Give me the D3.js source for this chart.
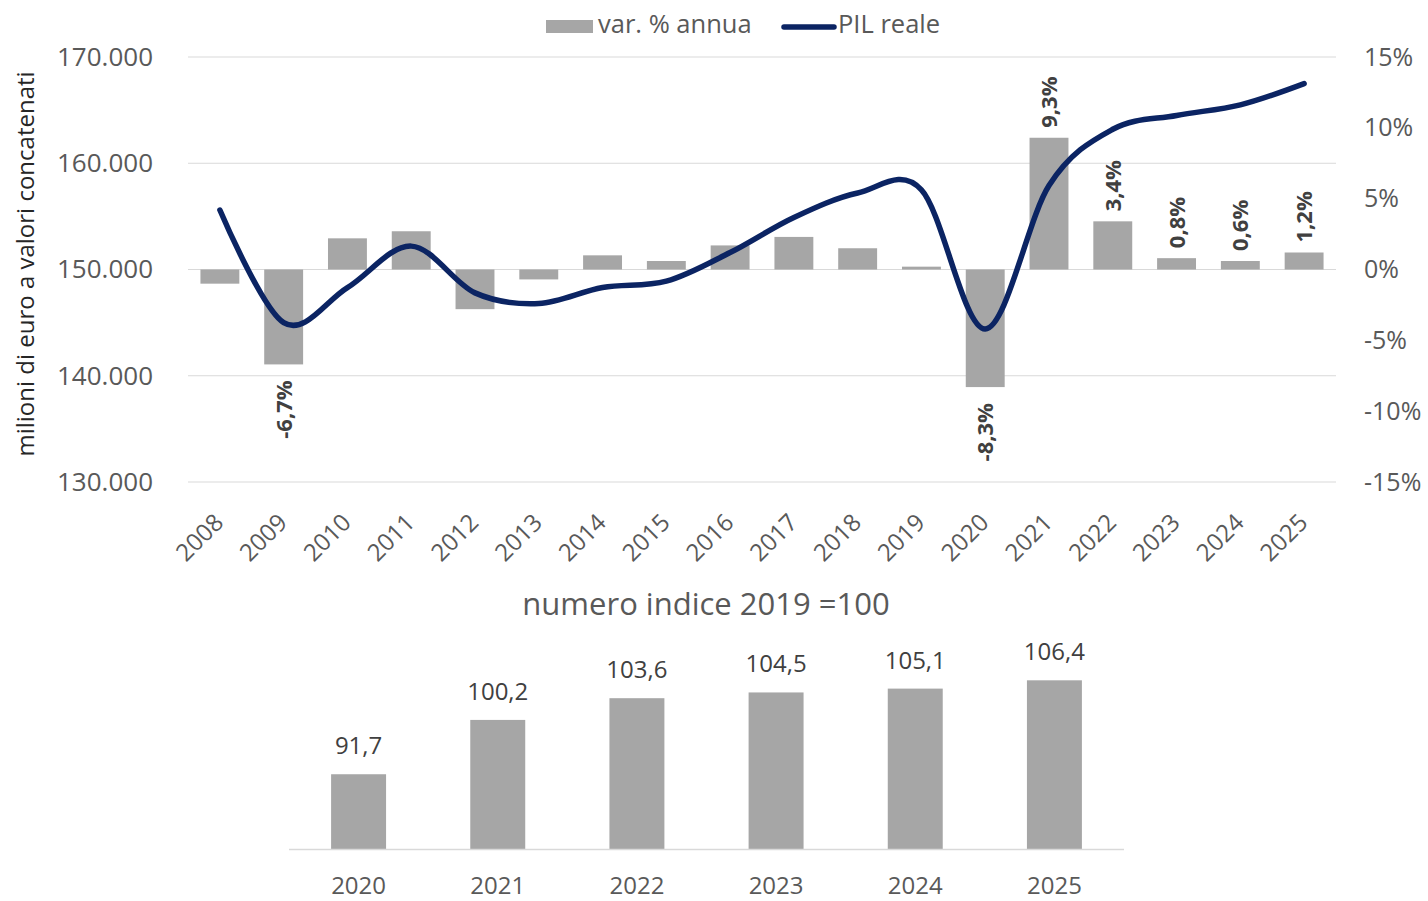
<!DOCTYPE html>
<html>
<head>
<meta charset="utf-8">
<script src="https://cdn.jsdelivr.net/npm/d3@7"></script>
<style>
  body { margin: 0; background: #fff; }
  text { font-family: "Open Sans", sans-serif; }
</style>
</head>
<body>
<div id="chart"></div>
<script>
// data
const years = ['2008', '2009', '2010', '2011', '2012', '2013', '2014', '2015', '2016',
  '2017', '2018', '2019', '2020', '2021', '2022', '2023', '2024', '2025'];
const varAnnua = [-1.0, -6.7, 2.2, 2.7, -2.8, -0.7, 1.0, 0.6, 1.7,
  2.3, 1.5, 0.2, -8.3, 9.3, 3.4, 0.8, 0.6, 1.2];
const pilReale = [155600, 145000, 148300, 152200, 147800, 146800, 148300, 148900, 151600,
  154900, 157200, 157500, 144400, 157900, 163200, 164500, 165500, 167500];
const labelledYears = ['2009', '2020', '2021', '2022', '2023', '2024', '2025'];
const leftTicks = [130000, 140000, 150000, 160000, 170000];
const rightTicks = [-15, -10, -5, 0, 5, 10, 15];

const indiceYears = ['2020', '2021', '2022', '2023', '2024', '2025'];
const indiceValues = [91.7, 100.2, 103.6, 104.5, 105.1, 106.4];

const width = 1428;
const height = 901;

const it = d3.formatLocale({decimal: ',', thousands: '.', grouping: [3], currency: ['€', '']});
const fmtThousands = it.format(',.0f');
const fmtComma = (v) => v.toFixed(1).replace('.', ',');

const svg = d3.select('#chart')
  .append('svg')
  .attr('width', width)
  .attr('height', height);

drawTop();
drawBottom();

function drawTop() {
  const left = 188, right = 1336, top = 57, bottom = 482;

  const x = d3.scaleBand()
    .domain(years)
    .range([left, right])
    .paddingInner(0.39)
    .paddingOuter(0.195);

  const yLeft = d3.scaleLinear().domain([130000, 170000]).range([bottom, top]);
  const yRight = d3.scaleLinear().domain([-15, 15]).range([bottom, top]);

  // gridlines from the left axis
  svg.append('g')
    .selectAll('line')
    .data(leftTicks)
    .enter()
    .append('line')
    .attr('x1', left)
    .attr('x2', right)
    .attr('y1', d => yLeft(d))
    .attr('y2', d => yLeft(d))
    .attr('stroke', '#d9d9d9')
    .attr('stroke-width', 1);

  // left axis labels
  const gl = svg.append('g')
    .attr('transform', `translate(${left - 35},0)`)
    .call(d3.axisLeft(yLeft).tickValues(leftTicks).tickFormat(fmtThousands).tickSize(0));
  gl.select('.domain').remove();
  gl.selectAll('text')
    .attr('font-size', 26)
    .attr('fill', '#595959')
    .attr('x', 0);

  // right axis labels
  const gr = svg.append('g')
    .attr('transform', `translate(${right + 28},0)`)
    .call(d3.axisRight(yRight).tickValues(rightTicks).tickFormat(d => d + '%').tickSize(0));
  gr.select('.domain').remove();
  gr.selectAll('text')
    .attr('font-size', 25)
    .attr('fill', '#595959')
    .attr('x', 0);

  // axis title
  svg.append('text')
    .attr('transform', 'translate(34,264) rotate(-90)')
    .attr('text-anchor', 'middle')
    .attr('font-size', 24)
    .attr('fill', '#262626')
    .text('milioni di euro a valori concatenati');

  // bars
  svg.append('g')
    .selectAll('rect')
    .data(years)
    .enter()
    .append('rect')
    .attr('x', d => x(d))
    .attr('width', x.bandwidth())
    .attr('y', (d, i) => yRight(Math.max(0, varAnnua[i])))
    .attr('height', (d, i) => Math.abs(yRight(varAnnua[i]) - yRight(0)))
    .attr('fill', '#a6a6a6');

  // line
  const line = d3.line()
    .x((d, i) => x(years[i]) + x.bandwidth() / 2)
    .y(d => yLeft(d))
    .curve(d3.curveCardinal.tension(0));

  svg.append('path')
    .datum(pilReale)
    .attr('d', line)
    .attr('fill', 'none')
    .attr('stroke', '#0b2463')
    .attr('stroke-width', 5.5)
    .attr('stroke-linecap', 'round');

  // rotated value labels
  const labelled = years.filter(d => labelledYears.includes(d));
  svg.append('g')
    .selectAll('text')
    .data(labelled)
    .enter()
    .append('text')
    .attr('transform', d => {
      const v = varAnnua[years.indexOf(d)];
      const cx = x(d) + x.bandwidth() / 2 + 8;
      const cy = v >= 0 ? yRight(v) - 10 : yRight(v) + 16;
      return `translate(${cx},${cy}) rotate(-90)`;
    })
    .attr('text-anchor', d => varAnnua[years.indexOf(d)] >= 0 ? 'start' : 'end')
    .attr('font-size', 22)
    .attr('font-weight', 'bold')
    .attr('fill', '#404040')
    .text(d => fmtComma(varAnnua[years.indexOf(d)]) + '%');

  // year labels
  svg.append('g')
    .selectAll('text')
    .data(years)
    .enter()
    .append('text')
    .attr('transform', d => `translate(${x(d) + x.bandwidth() / 2 + 5},524) rotate(-45)`)
    .attr('text-anchor', 'end')
    .attr('font-size', 24)
    .attr('fill', '#595959')
    .text(d => d);

  // legend
  const lg = svg.append('g');
  lg.append('rect')
    .attr('x', 546).attr('y', 20).attr('width', 47).attr('height', 13)
    .attr('fill', '#a6a6a6');
  lg.append('text')
    .attr('x', 598).attr('y', 33)
    .attr('font-size', 25.5)
    .attr('fill', '#595959')
    .text('var. % annua');
  lg.append('line')
    .attr('x1', 784).attr('x2', 834).attr('y1', 27).attr('y2', 27)
    .attr('stroke', '#0b2463')
    .attr('stroke-width', 5.5)
    .attr('stroke-linecap', 'round');
  lg.append('text')
    .attr('x', 838).attr('y', 33)
    .attr('font-size', 25.5)
    .attr('fill', '#595959')
    .text('PIL reale');
}

function drawBottom() {
  const left = 289, right = 1124, base = 849;

  const x = d3.scaleBand()
    .domain(indiceYears)
    .range([left, right])
    .paddingInner(0.605)
    .paddingOuter(0.3025);

  // axis starts at 80, not at zero
  const y = d3.scaleLinear().domain([80, 110]).range([base, base - 30 * 6.39]);

  svg.append('text')
    .attr('x', 706)
    .attr('y', 615)
    .attr('text-anchor', 'middle')
    .attr('font-size', 31)
    .attr('fill', '#595959')
    .text('numero indice 2019 =100');

  svg.append('g')
    .selectAll('rect')
    .data(indiceYears)
    .enter()
    .append('rect')
    .attr('x', d => x(d))
    .attr('width', x.bandwidth())
    .attr('y', (d, i) => y(indiceValues[i]))
    .attr('height', (d, i) => base - y(indiceValues[i]))
    .attr('fill', '#a6a6a6');

  svg.append('line')
    .attr('x1', left).attr('x2', right)
    .attr('y1', base + 0.5).attr('y2', base + 0.5)
    .attr('stroke', '#d9d9d9')
    .attr('stroke-width', 1.5);

  svg.append('g')
    .selectAll('text')
    .data(indiceYears)
    .enter()
    .append('text')
    .attr('x', d => x(d) + x.bandwidth() / 2)
    .attr('y', (d, i) => y(indiceValues[i]) - 20)
    .attr('text-anchor', 'middle')
    .attr('font-size', 24)
    .attr('fill', '#404040')
    .text((d, i) => fmtComma(indiceValues[i]));

  const gx = svg.append('g')
    .attr('transform', `translate(0,${base})`)
    .call(d3.axisBottom(x).tickSize(0));
  gx.select('.domain').remove();
  gx.selectAll('text')
    .attr('font-size', 24)
    .attr('fill', '#595959')
    .attr('y', 45)
    .attr('dy', 0);
}
</script>
</body>
</html>
